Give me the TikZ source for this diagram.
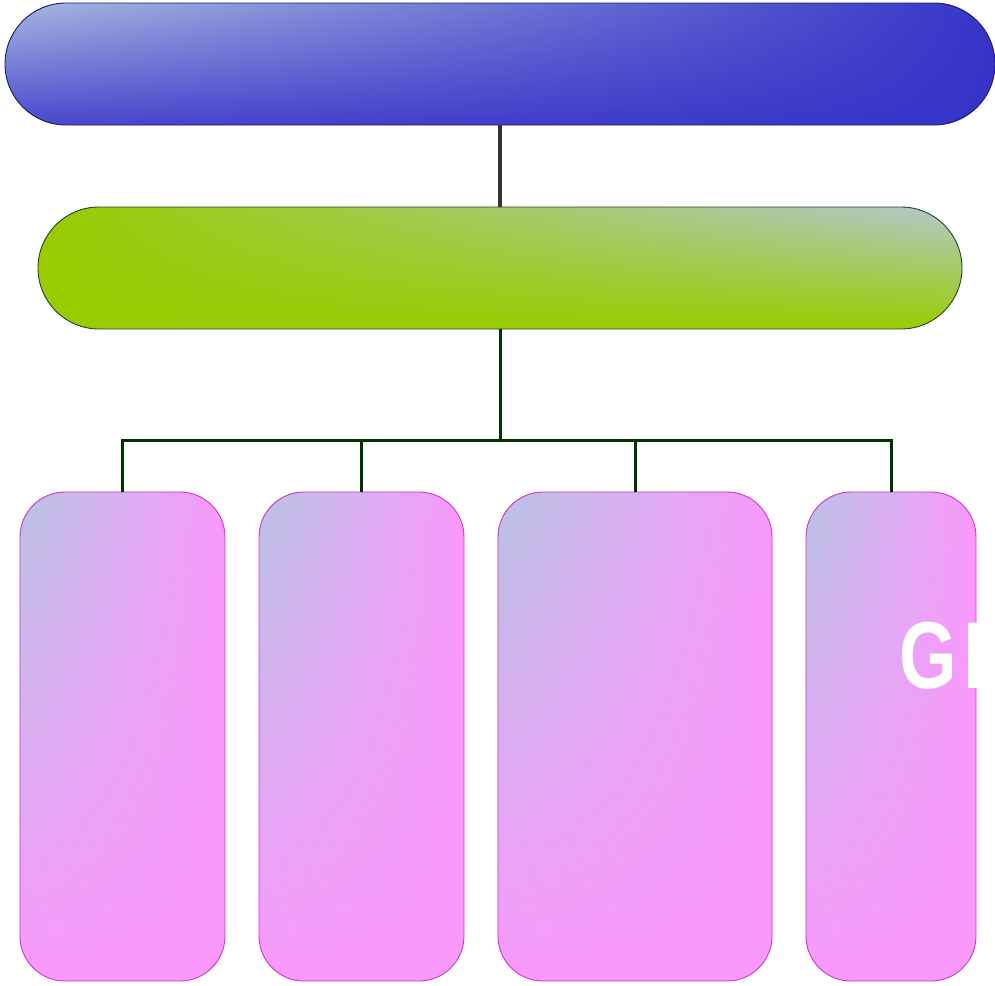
\documentclass[tikz,border=0pt]{standalone}
\usepackage{fontspec}
\setmainfont{Liberation Sans}
\usetikzlibrary{positioning,fadings}

\definecolor{headblue}{HTML}{3634C8}
\definecolor{headlight}{HTML}{A8B8E0}
\definecolor{headedge}{HTML}{1A1A70}
\definecolor{subgreen}{HTML}{99CC00}
\definecolor{sublight}{HTML}{B4C8D0}
\definecolor{subedge}{HTML}{224422}
\definecolor{leafpink}{HTML}{FA99FC}
\definecolor{leaflight}{HTML}{B8C4E4}
\definecolor{leafedge}{HTML}{CC33CC}
\definecolor{linkgreen}{HTML}{003300}

\tikzset{
  headbar/.style={rectangle, rounded corners=61pt, minimum width=990pt,
    minimum height=122pt, draw=headedge, line width=0.9pt, fill=headblue,
    path picture={\shade[top color=headlight, bottom color=headblue!90!white,
      path fading=east] (path picture bounding box.north west)
      rectangle (path picture bounding box.south east);}},
  subbar/.style={rectangle, rounded corners=61pt, minimum width=924pt,
    minimum height=122pt, draw=subedge, line width=0.9pt, fill=subgreen,
    path picture={\shade[top color=sublight, bottom color=subgreen,
      path fading=west] (path picture bounding box.north west)
      rectangle (path picture bounding box.south east);}},
  leafbox/.style={rectangle, rounded corners=45pt, minimum height=489pt,
    draw=leafedge, line width=0.9pt, fill=leafpink,
    path picture={\shade[top color=leaflight, bottom color=leafpink,
      path fading=east] (path picture bounding box.north west)
      rectangle (path picture bounding box.south east);}},
  link/.style={draw=linkgreen, line width=3pt},
}

\begin{document}
\begin{tikzpicture}[x=1pt, y=-1pt]
  \useasboundingbox (0,0) rectangle (995,985);

  % the two bars
  \node[headbar] (head) at (500,64) {};
  \node[subbar] (sub) at (500,268) {};

  % the four columns
  \node[leafbox, minimum width=205pt] (leafA) at (122.5,736.5) {};
  \node[leafbox, minimum width=205pt] (leafB) at (361.5,736.5) {};
  \node[leafbox, minimum width=274pt] (leafC) at (635,736.5) {};
  \node[leafbox, minimum width=170pt] (leafD) at (891,736.5) {};

  \node[anchor=base west, inner sep=0pt, text=white, xscale=0.78,
    font=\fontsize{95}{95}\selectfont\bfseries] (label) at (899,688) {G\kern8ptI};

  % connectors
  \draw[draw=black!80, line width=4pt] (head.south) -- (sub.north);
  \coordinate (hub) at (500,440);
  \draw[link] (sub.south) -- (hub);
  \foreach \leaf in {leafA,leafB,leafC,leafD}
    \draw[link] (hub) -| (\leaf.north);
\end{tikzpicture}
\end{document}
